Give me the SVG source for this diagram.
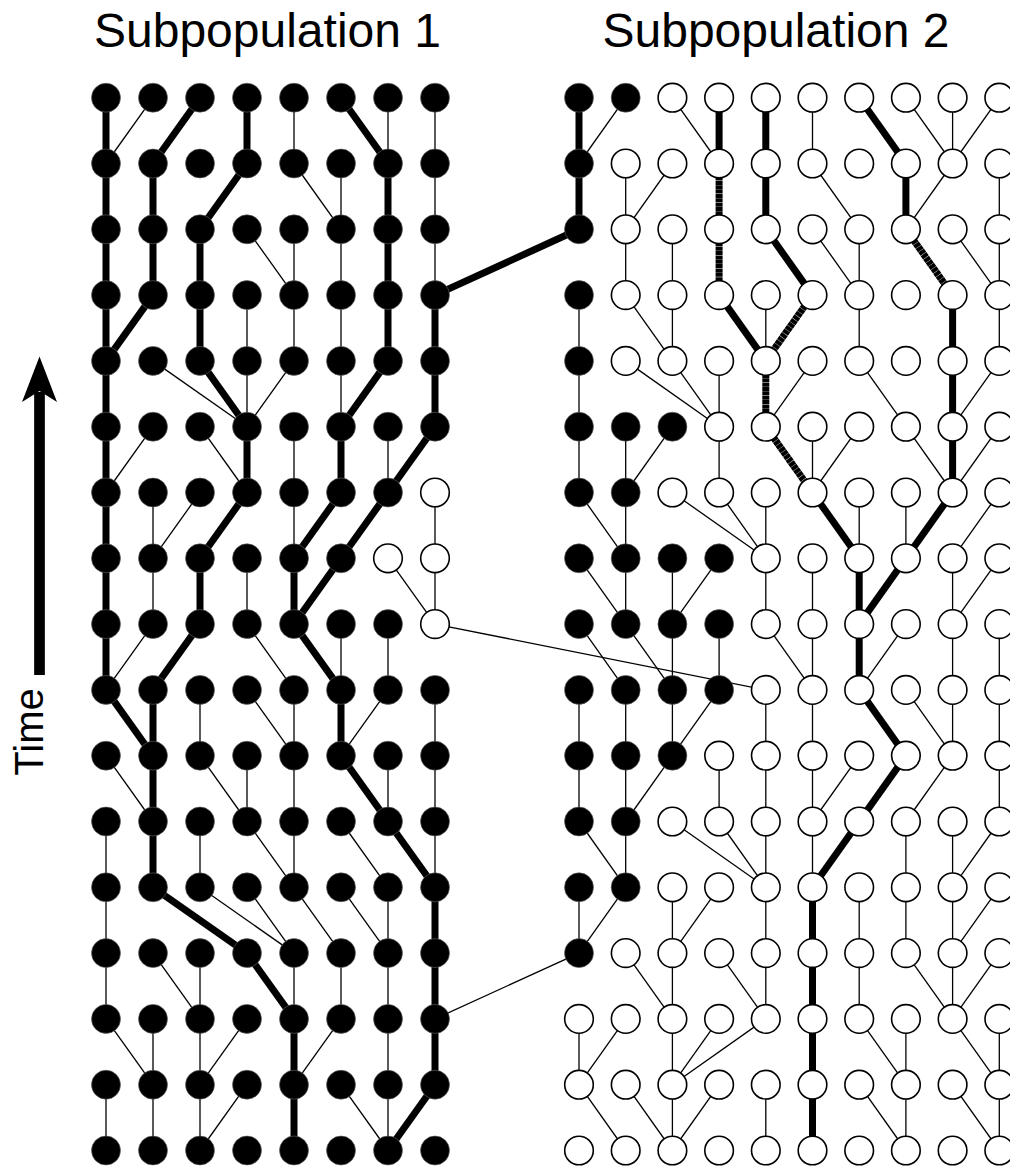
<svg xmlns="http://www.w3.org/2000/svg" width="1010" height="1168" viewBox="0 0 1010 1168">
<style>
.t{stroke:#000;stroke-width:1.3}
.k{stroke:#000;stroke-width:7}
.h{stroke:#000;stroke-width:7;stroke-dasharray:4 0.35}
.bk{fill:#000;stroke:#666;stroke-width:0.6}
.wh{fill:#fff;stroke:#000;stroke-width:1.6}
.lbl{font-family:"Liberation Sans",Arial,sans-serif;fill:#000}
</style>
<rect width="1010" height="1168" fill="#fff"/>
<text class="lbl" x="267.5" y="47" font-size="48" text-anchor="middle">Subpopulation 1</text>
<text class="lbl" x="776" y="47" font-size="48" text-anchor="middle">Subpopulation 2</text>
<g id="time-axis">
<line x1="39.5" y1="675" x2="39.5" y2="392" stroke="#000" stroke-width="10.7"/>
<path d="M39.5,356.5 L57,402 L39.5,391 L22,402 Z" fill="#000"/>
<text class="lbl" transform="translate(43,732) rotate(-90)" font-size="40" text-anchor="middle">Time</text>
</g>
<g id="connectors">
<!-- Subpopulation 1 -->
<line class="k" x1="106" y1="97.7" x2="106" y2="163.5"/>
<line class="t" x1="153" y1="97.7" x2="106" y2="163.5"/>
<line class="k" x1="200" y1="97.7" x2="153" y2="163.5"/>
<line class="k" x1="247" y1="97.7" x2="247" y2="163.5"/>
<line class="t" x1="294" y1="97.7" x2="294" y2="163.5"/>
<line class="k" x1="341" y1="97.7" x2="388" y2="163.5"/>
<line class="t" x1="388" y1="97.7" x2="388" y2="163.5"/>
<line class="t" x1="435" y1="97.7" x2="435" y2="163.5"/>

<line class="k" x1="106" y1="163.5" x2="106" y2="229.3"/>
<line class="k" x1="153" y1="163.5" x2="153" y2="229.3"/>
<line class="k" x1="247" y1="163.5" x2="200" y2="229.3"/>
<line class="t" x1="294" y1="163.5" x2="341" y2="229.3"/>
<line class="t" x1="341" y1="163.5" x2="341" y2="229.3"/>
<line class="k" x1="388" y1="163.5" x2="388" y2="229.3"/>
<line class="t" x1="435" y1="163.5" x2="435" y2="229.3"/>

<line class="k" x1="106" y1="229.3" x2="106" y2="295.1"/>
<line class="k" x1="153" y1="229.3" x2="153" y2="295.1"/>
<line class="k" x1="200" y1="229.3" x2="200" y2="295.1"/>
<line class="t" x1="247" y1="229.3" x2="294" y2="295.1"/>
<line class="t" x1="294" y1="229.3" x2="294" y2="295.1"/>
<line class="t" x1="341" y1="229.3" x2="341" y2="295.1"/>
<line class="k" x1="388" y1="229.3" x2="388" y2="295.1"/>
<line class="t" x1="435" y1="229.3" x2="435" y2="295.1"/>

<line class="k" x1="106" y1="295.1" x2="106" y2="360.9"/>
<line class="k" x1="153" y1="295.1" x2="106" y2="360.9"/>
<line class="k" x1="200" y1="295.1" x2="200" y2="360.9"/>
<line class="t" x1="247" y1="295.1" x2="247" y2="360.9"/>
<line class="t" x1="294" y1="295.1" x2="294" y2="360.9"/>
<line class="t" x1="341" y1="295.1" x2="341" y2="360.9"/>
<line class="k" x1="388" y1="295.1" x2="388" y2="360.9"/>
<line class="k" x1="435" y1="295.1" x2="435" y2="360.9"/>

<line class="k" x1="106" y1="360.9" x2="106" y2="426.7"/>
<line class="t" x1="153" y1="360.9" x2="247" y2="426.7"/>
<line class="k" x1="200" y1="360.9" x2="247" y2="426.7"/>
<line class="t" x1="247" y1="360.9" x2="247" y2="426.7"/>
<line class="t" x1="294" y1="360.9" x2="247" y2="426.7"/>
<line class="t" x1="341" y1="360.9" x2="341" y2="426.7"/>
<line class="k" x1="388" y1="360.9" x2="341" y2="426.7"/>
<line class="k" x1="435" y1="360.9" x2="435" y2="426.7"/>

<line class="k" x1="106" y1="426.7" x2="106" y2="492.5"/>
<line class="t" x1="153" y1="426.7" x2="106" y2="492.5"/>
<line class="t" x1="200" y1="426.7" x2="247" y2="492.5"/>
<line class="k" x1="247" y1="426.7" x2="247" y2="492.5"/>
<line class="t" x1="294" y1="426.7" x2="294" y2="492.5"/>
<line class="k" x1="341" y1="426.7" x2="341" y2="492.5"/>
<line class="t" x1="388" y1="426.7" x2="388" y2="492.5"/>
<line class="k" x1="435" y1="426.7" x2="388" y2="492.5"/>

<line class="k" x1="106" y1="492.5" x2="106" y2="558.3"/>
<line class="t" x1="153" y1="492.5" x2="153" y2="558.3"/>
<line class="t" x1="200" y1="492.5" x2="153" y2="558.3"/>
<line class="k" x1="247" y1="492.5" x2="200" y2="558.3"/>
<line class="t" x1="294" y1="492.5" x2="294" y2="558.3"/>
<line class="k" x1="341" y1="492.5" x2="294" y2="558.3"/>
<line class="k" x1="388" y1="492.5" x2="341" y2="558.3"/>
<line class="t" x1="435" y1="492.5" x2="435" y2="558.3"/>

<line class="k" x1="106" y1="558.3" x2="106" y2="624.1"/>
<line class="t" x1="153" y1="558.3" x2="153" y2="624.1"/>
<line class="k" x1="200" y1="558.3" x2="200" y2="624.1"/>
<line class="t" x1="247" y1="558.3" x2="247" y2="624.1"/>
<line class="k" x1="294" y1="558.3" x2="294" y2="624.1"/>
<line class="k" x1="341" y1="558.3" x2="294" y2="624.1"/>
<line class="t" x1="388" y1="558.3" x2="435" y2="624.1"/>
<line class="t" x1="435" y1="558.3" x2="435" y2="624.1"/>

<line class="k" x1="106" y1="624.1" x2="106" y2="689.9"/>
<line class="t" x1="153" y1="624.1" x2="106" y2="689.9"/>
<line class="k" x1="200" y1="624.1" x2="153" y2="689.9"/>
<line class="t" x1="247" y1="624.1" x2="294" y2="689.9"/>
<line class="k" x1="294" y1="624.1" x2="341" y2="689.9"/>
<line class="t" x1="341" y1="624.1" x2="341" y2="689.9"/>
<line class="t" x1="388" y1="624.1" x2="388" y2="689.9"/>

<line class="k" x1="106" y1="689.9" x2="153" y2="755.7"/>
<line class="k" x1="153" y1="689.9" x2="153" y2="755.7"/>
<line class="t" x1="200" y1="689.9" x2="200" y2="755.7"/>
<line class="t" x1="247" y1="689.9" x2="294" y2="755.7"/>
<line class="t" x1="294" y1="689.9" x2="294" y2="755.7"/>
<line class="k" x1="341" y1="689.9" x2="341" y2="755.7"/>
<line class="t" x1="388" y1="689.9" x2="341" y2="755.7"/>
<line class="t" x1="435" y1="689.9" x2="435" y2="755.7"/>

<line class="t" x1="106" y1="755.7" x2="153" y2="821.5"/>
<line class="k" x1="153" y1="755.7" x2="153" y2="821.5"/>
<line class="t" x1="200" y1="755.7" x2="247" y2="821.5"/>
<line class="t" x1="247" y1="755.7" x2="247" y2="821.5"/>
<line class="t" x1="294" y1="755.7" x2="294" y2="821.5"/>
<line class="k" x1="341" y1="755.7" x2="388" y2="821.5"/>
<line class="t" x1="388" y1="755.7" x2="388" y2="821.5"/>
<line class="t" x1="435" y1="755.7" x2="435" y2="821.5"/>

<line class="t" x1="106" y1="821.5" x2="106" y2="887.3"/>
<line class="k" x1="153" y1="821.5" x2="153" y2="887.3"/>
<line class="t" x1="200" y1="821.5" x2="200" y2="887.3"/>
<line class="t" x1="247" y1="821.5" x2="294" y2="887.3"/>
<line class="t" x1="294" y1="821.5" x2="294" y2="887.3"/>
<line class="t" x1="341" y1="821.5" x2="388" y2="887.3"/>
<line class="k" x1="388" y1="821.5" x2="435" y2="887.3"/>
<line class="t" x1="435" y1="821.5" x2="435" y2="887.3"/>

<line class="t" x1="106" y1="887.3" x2="106" y2="953.1"/>
<line class="k" x1="153" y1="887.3" x2="247" y2="953.1"/>
<line class="t" x1="200" y1="887.3" x2="294" y2="953.1"/>
<line class="t" x1="247" y1="887.3" x2="294" y2="953.1"/>
<line class="t" x1="294" y1="887.3" x2="341" y2="953.1"/>
<line class="t" x1="341" y1="887.3" x2="388" y2="953.1"/>
<line class="t" x1="388" y1="887.3" x2="388" y2="953.1"/>
<line class="k" x1="435" y1="887.3" x2="435" y2="953.1"/>

<line class="t" x1="106" y1="953.1" x2="106" y2="1018.9"/>
<line class="t" x1="153" y1="953.1" x2="200" y2="1018.9"/>
<line class="t" x1="200" y1="953.1" x2="200" y2="1018.9"/>
<line class="k" x1="247" y1="953.1" x2="294" y2="1018.9"/>
<line class="t" x1="294" y1="953.1" x2="294" y2="1018.9"/>
<line class="t" x1="341" y1="953.1" x2="341" y2="1018.9"/>
<line class="t" x1="388" y1="953.1" x2="388" y2="1018.9"/>
<line class="k" x1="435" y1="953.1" x2="435" y2="1018.9"/>

<line class="t" x1="106" y1="1018.9" x2="153" y2="1084.7"/>
<line class="t" x1="153" y1="1018.9" x2="153" y2="1084.7"/>
<line class="t" x1="200" y1="1018.9" x2="200" y2="1084.7"/>
<line class="t" x1="247" y1="1018.9" x2="200" y2="1084.7"/>
<line class="k" x1="294" y1="1018.9" x2="294" y2="1084.7"/>
<line class="t" x1="341" y1="1018.9" x2="294" y2="1084.7"/>
<line class="t" x1="388" y1="1018.9" x2="388" y2="1084.7"/>
<line class="k" x1="435" y1="1018.9" x2="435" y2="1084.7"/>

<line class="t" x1="106" y1="1084.7" x2="106" y2="1150.5"/>
<line class="t" x1="153" y1="1084.7" x2="153" y2="1150.5"/>
<line class="t" x1="200" y1="1084.7" x2="200" y2="1150.5"/>
<line class="t" x1="247" y1="1084.7" x2="200" y2="1150.5"/>
<line class="k" x1="294" y1="1084.7" x2="294" y2="1150.5"/>
<line class="t" x1="341" y1="1084.7" x2="388" y2="1150.5"/>
<line class="t" x1="388" y1="1084.7" x2="388" y2="1150.5"/>
<line class="k" x1="435" y1="1084.7" x2="388" y2="1150.5"/>

<!-- Migration -->
<line class="k" x1="435" y1="295.1" x2="579" y2="229.3"/>
<line class="t" x1="435" y1="624.1" x2="765.8" y2="689.9"/>
<line class="t" x1="435" y1="1018.9" x2="579" y2="953.1"/>

<!-- Subpopulation 2 -->
<line class="k" x1="579" y1="97.7" x2="579" y2="163.5"/>
<line class="t" x1="625.7" y1="97.7" x2="579" y2="163.5"/>
<line class="t" x1="672.4" y1="97.7" x2="719.1" y2="163.5"/>
<line class="k" x1="719.1" y1="97.7" x2="719.1" y2="163.5"/>
<line class="k" x1="765.8" y1="97.7" x2="765.8" y2="163.5"/>
<line class="t" x1="812.5" y1="97.7" x2="812.5" y2="163.5"/>
<line class="k" x1="859.2" y1="97.7" x2="905.9" y2="163.5"/>
<line class="t" x1="905.9" y1="97.7" x2="952.6" y2="163.5"/>
<line class="t" x1="952.6" y1="97.7" x2="952.6" y2="163.5"/>
<line class="t" x1="999.3" y1="97.7" x2="952.6" y2="163.5"/>

<line class="k" x1="579" y1="163.5" x2="579" y2="229.3"/>
<line class="t" x1="625.7" y1="163.5" x2="625.7" y2="229.3"/>
<line class="t" x1="672.4" y1="163.5" x2="625.7" y2="229.3"/>
<line class="h" x1="719.1" y1="163.5" x2="719.1" y2="229.3"/>
<line class="k" x1="765.8" y1="163.5" x2="765.8" y2="229.3"/>
<line class="t" x1="812.5" y1="163.5" x2="859.2" y2="229.3"/>
<line class="k" x1="905.9" y1="163.5" x2="905.9" y2="229.3"/>
<line class="t" x1="952.6" y1="163.5" x2="905.9" y2="229.3"/>
<line class="t" x1="999.3" y1="163.5" x2="999.3" y2="229.3"/>

<line class="t" x1="625.7" y1="229.3" x2="625.7" y2="295.1"/>
<line class="t" x1="672.4" y1="229.3" x2="672.4" y2="295.1"/>
<line class="h" x1="719.1" y1="229.3" x2="719.1" y2="295.1"/>
<line class="k" x1="765.8" y1="229.3" x2="812.5" y2="295.1"/>
<line class="t" x1="812.5" y1="229.3" x2="859.2" y2="295.1"/>
<line class="t" x1="859.2" y1="229.3" x2="859.2" y2="295.1"/>
<line class="h" x1="905.9" y1="229.3" x2="952.6" y2="295.1"/>
<line class="t" x1="952.6" y1="229.3" x2="999.3" y2="295.1"/>
<line class="t" x1="999.3" y1="229.3" x2="999.3" y2="295.1"/>

<line class="t" x1="579" y1="295.1" x2="579" y2="360.9"/>
<line class="t" x1="625.7" y1="295.1" x2="672.4" y2="360.9"/>
<line class="t" x1="672.4" y1="295.1" x2="672.4" y2="360.9"/>
<line class="k" x1="719.1" y1="295.1" x2="765.8" y2="360.9"/>
<line class="t" x1="765.8" y1="295.1" x2="765.8" y2="360.9"/>
<line class="h" x1="812.5" y1="295.1" x2="765.8" y2="360.9"/>
<line class="t" x1="859.2" y1="295.1" x2="859.2" y2="360.9"/>
<line class="k" x1="952.6" y1="295.1" x2="952.6" y2="360.9"/>
<line class="t" x1="999.3" y1="295.1" x2="999.3" y2="360.9"/>

<line class="t" x1="579" y1="360.9" x2="579" y2="426.7"/>
<line class="t" x1="625.7" y1="360.9" x2="719.1" y2="426.7"/>
<line class="t" x1="672.4" y1="360.9" x2="719.1" y2="426.7"/>
<line class="t" x1="719.1" y1="360.9" x2="719.1" y2="426.7"/>
<line class="h" x1="765.8" y1="360.9" x2="765.8" y2="426.7"/>
<line class="t" x1="812.5" y1="360.9" x2="765.8" y2="426.7"/>
<line class="t" x1="859.2" y1="360.9" x2="905.9" y2="426.7"/>
<line class="k" x1="952.6" y1="360.9" x2="952.6" y2="426.7"/>
<line class="t" x1="999.3" y1="360.9" x2="952.6" y2="426.7"/>

<line class="t" x1="579" y1="426.7" x2="579" y2="492.5"/>
<line class="t" x1="625.7" y1="426.7" x2="625.7" y2="492.5"/>
<line class="t" x1="672.4" y1="426.7" x2="625.7" y2="492.5"/>
<line class="t" x1="719.1" y1="426.7" x2="719.1" y2="492.5"/>
<line class="h" x1="765.8" y1="426.7" x2="812.5" y2="492.5"/>
<line class="t" x1="812.5" y1="426.7" x2="812.5" y2="492.5"/>
<line class="t" x1="859.2" y1="426.7" x2="812.5" y2="492.5"/>
<line class="t" x1="905.9" y1="426.7" x2="952.6" y2="492.5"/>
<line class="k" x1="952.6" y1="426.7" x2="952.6" y2="492.5"/>
<line class="t" x1="999.3" y1="426.7" x2="952.6" y2="492.5"/>

<line class="t" x1="579" y1="492.5" x2="625.7" y2="558.3"/>
<line class="t" x1="625.7" y1="492.5" x2="625.7" y2="558.3"/>
<line class="t" x1="672.4" y1="492.5" x2="765.8" y2="558.3"/>
<line class="t" x1="719.1" y1="492.5" x2="765.8" y2="558.3"/>
<line class="t" x1="765.8" y1="492.5" x2="765.8" y2="558.3"/>
<line class="k" x1="812.5" y1="492.5" x2="859.2" y2="558.3"/>
<line class="t" x1="859.2" y1="492.5" x2="859.2" y2="558.3"/>
<line class="t" x1="905.9" y1="492.5" x2="905.9" y2="558.3"/>
<line class="k" x1="952.6" y1="492.5" x2="905.9" y2="558.3"/>
<line class="t" x1="999.3" y1="492.5" x2="952.6" y2="558.3"/>

<line class="t" x1="579" y1="558.3" x2="625.7" y2="624.1"/>
<line class="t" x1="625.7" y1="558.3" x2="625.7" y2="624.1"/>
<line class="t" x1="672.4" y1="558.3" x2="672.4" y2="624.1"/>
<line class="t" x1="719.1" y1="558.3" x2="672.4" y2="624.1"/>
<line class="t" x1="765.8" y1="558.3" x2="765.8" y2="624.1"/>
<line class="t" x1="812.5" y1="558.3" x2="812.5" y2="624.1"/>
<line class="k" x1="859.2" y1="558.3" x2="859.2" y2="624.1"/>
<line class="k" x1="905.9" y1="558.3" x2="859.2" y2="624.1"/>
<line class="t" x1="952.6" y1="558.3" x2="952.6" y2="624.1"/>
<line class="t" x1="999.3" y1="558.3" x2="952.6" y2="624.1"/>

<line class="t" x1="579" y1="624.1" x2="625.7" y2="689.9"/>
<line class="t" x1="625.7" y1="624.1" x2="672.4" y2="689.9"/>
<line class="t" x1="672.4" y1="624.1" x2="672.4" y2="689.9"/>
<line class="t" x1="719.1" y1="624.1" x2="719.1" y2="689.9"/>
<line class="t" x1="765.8" y1="624.1" x2="812.5" y2="689.9"/>
<line class="t" x1="812.5" y1="624.1" x2="812.5" y2="689.9"/>
<line class="k" x1="859.2" y1="624.1" x2="859.2" y2="689.9"/>
<line class="t" x1="905.9" y1="624.1" x2="859.2" y2="689.9"/>
<line class="t" x1="952.6" y1="624.1" x2="952.6" y2="689.9"/>
<line class="t" x1="999.3" y1="624.1" x2="999.3" y2="689.9"/>

<line class="t" x1="579" y1="689.9" x2="579" y2="755.7"/>
<line class="t" x1="625.7" y1="689.9" x2="625.7" y2="755.7"/>
<line class="t" x1="672.4" y1="689.9" x2="672.4" y2="755.7"/>
<line class="t" x1="719.1" y1="689.9" x2="672.4" y2="755.7"/>
<line class="t" x1="765.8" y1="689.9" x2="765.8" y2="755.7"/>
<line class="t" x1="812.5" y1="689.9" x2="812.5" y2="755.7"/>
<line class="k" x1="859.2" y1="689.9" x2="905.9" y2="755.7"/>
<line class="t" x1="905.9" y1="689.9" x2="952.6" y2="755.7"/>
<line class="t" x1="952.6" y1="689.9" x2="952.6" y2="755.7"/>
<line class="t" x1="999.3" y1="689.9" x2="999.3" y2="755.7"/>

<line class="t" x1="579" y1="755.7" x2="579" y2="821.5"/>
<line class="t" x1="625.7" y1="755.7" x2="625.7" y2="821.5"/>
<line class="t" x1="672.4" y1="755.7" x2="625.7" y2="821.5"/>
<line class="t" x1="719.1" y1="755.7" x2="719.1" y2="821.5"/>
<line class="t" x1="765.8" y1="755.7" x2="765.8" y2="821.5"/>
<line class="t" x1="812.5" y1="755.7" x2="812.5" y2="821.5"/>
<line class="t" x1="859.2" y1="755.7" x2="812.5" y2="821.5"/>
<line class="k" x1="905.9" y1="755.7" x2="859.2" y2="821.5"/>
<line class="t" x1="952.6" y1="755.7" x2="905.9" y2="821.5"/>
<line class="t" x1="999.3" y1="755.7" x2="999.3" y2="821.5"/>

<line class="t" x1="579" y1="821.5" x2="625.7" y2="887.3"/>
<line class="t" x1="625.7" y1="821.5" x2="625.7" y2="887.3"/>
<line class="t" x1="672.4" y1="821.5" x2="765.8" y2="887.3"/>
<line class="t" x1="719.1" y1="821.5" x2="765.8" y2="887.3"/>
<line class="t" x1="765.8" y1="821.5" x2="765.8" y2="887.3"/>
<line class="t" x1="812.5" y1="821.5" x2="812.5" y2="887.3"/>
<line class="k" x1="859.2" y1="821.5" x2="812.5" y2="887.3"/>
<line class="t" x1="905.9" y1="821.5" x2="905.9" y2="887.3"/>
<line class="t" x1="952.6" y1="821.5" x2="952.6" y2="887.3"/>
<line class="t" x1="999.3" y1="821.5" x2="952.6" y2="887.3"/>

<line class="t" x1="579" y1="887.3" x2="579" y2="953.1"/>
<line class="t" x1="625.7" y1="887.3" x2="579" y2="953.1"/>
<line class="t" x1="672.4" y1="887.3" x2="672.4" y2="953.1"/>
<line class="t" x1="719.1" y1="887.3" x2="672.4" y2="953.1"/>
<line class="t" x1="765.8" y1="887.3" x2="765.8" y2="953.1"/>
<line class="k" x1="812.5" y1="887.3" x2="812.5" y2="953.1"/>
<line class="t" x1="859.2" y1="887.3" x2="859.2" y2="953.1"/>
<line class="t" x1="905.9" y1="887.3" x2="905.9" y2="953.1"/>
<line class="t" x1="952.6" y1="887.3" x2="952.6" y2="953.1"/>
<line class="t" x1="999.3" y1="887.3" x2="952.6" y2="953.1"/>

<line class="t" x1="625.7" y1="953.1" x2="672.4" y2="1018.9"/>
<line class="t" x1="672.4" y1="953.1" x2="672.4" y2="1018.9"/>
<line class="t" x1="719.1" y1="953.1" x2="765.8" y2="1018.9"/>
<line class="t" x1="765.8" y1="953.1" x2="765.8" y2="1018.9"/>
<line class="k" x1="812.5" y1="953.1" x2="812.5" y2="1018.9"/>
<line class="t" x1="859.2" y1="953.1" x2="859.2" y2="1018.9"/>
<line class="t" x1="905.9" y1="953.1" x2="952.6" y2="1018.9"/>
<line class="t" x1="952.6" y1="953.1" x2="952.6" y2="1018.9"/>
<line class="t" x1="999.3" y1="953.1" x2="952.6" y2="1018.9"/>

<line class="t" x1="579" y1="1018.9" x2="579" y2="1084.7"/>
<line class="t" x1="625.7" y1="1018.9" x2="579" y2="1084.7"/>
<line class="t" x1="672.4" y1="1018.9" x2="672.4" y2="1084.7"/>
<line class="t" x1="719.1" y1="1018.9" x2="672.4" y2="1084.7"/>
<line class="t" x1="765.8" y1="1018.9" x2="672.4" y2="1084.7"/>
<line class="k" x1="812.5" y1="1018.9" x2="812.5" y2="1084.7"/>
<line class="t" x1="859.2" y1="1018.9" x2="905.9" y2="1084.7"/>
<line class="t" x1="905.9" y1="1018.9" x2="905.9" y2="1084.7"/>
<line class="t" x1="952.6" y1="1018.9" x2="999.3" y2="1084.7"/>
<line class="t" x1="999.3" y1="1018.9" x2="999.3" y2="1084.7"/>

<line class="t" x1="579" y1="1084.7" x2="625.7" y2="1150.5"/>
<line class="t" x1="625.7" y1="1084.7" x2="672.4" y2="1150.5"/>
<line class="t" x1="672.4" y1="1084.7" x2="672.4" y2="1150.5"/>
<line class="t" x1="719.1" y1="1084.7" x2="672.4" y2="1150.5"/>
<line class="t" x1="765.8" y1="1084.7" x2="765.8" y2="1150.5"/>
<line class="k" x1="812.5" y1="1084.7" x2="812.5" y2="1150.5"/>
<line class="t" x1="859.2" y1="1084.7" x2="905.9" y2="1150.5"/>
<line class="t" x1="905.9" y1="1084.7" x2="905.9" y2="1150.5"/>
<line class="t" x1="952.6" y1="1084.7" x2="999.3" y2="1150.5"/>
<line class="t" x1="999.3" y1="1084.7" x2="999.3" y2="1150.5"/>
</g>
<g id="nodes-subpop1">
<g id="a0_0"><circle class="bk" cx="106" cy="97.7" r="14.5"/></g><g id="a0_1"><circle class="bk" cx="153" cy="97.7" r="14.5"/></g><g id="a0_2"><circle class="bk" cx="200" cy="97.7" r="14.5"/></g><g id="a0_3"><circle class="bk" cx="247" cy="97.7" r="14.5"/></g><g id="a0_4"><circle class="bk" cx="294" cy="97.7" r="14.5"/></g><g id="a0_5"><circle class="bk" cx="341" cy="97.7" r="14.5"/></g><g id="a0_6"><circle class="bk" cx="388" cy="97.7" r="14.5"/></g><g id="a0_7"><circle class="bk" cx="435" cy="97.7" r="14.5"/></g>
<g id="a1_0"><circle class="bk" cx="106" cy="163.5" r="14.5"/></g><g id="a1_1"><circle class="bk" cx="153" cy="163.5" r="14.5"/></g><g id="a1_2"><circle class="bk" cx="200" cy="163.5" r="14.5"/></g><g id="a1_3"><circle class="bk" cx="247" cy="163.5" r="14.5"/></g><g id="a1_4"><circle class="bk" cx="294" cy="163.5" r="14.5"/></g><g id="a1_5"><circle class="bk" cx="341" cy="163.5" r="14.5"/></g><g id="a1_6"><circle class="bk" cx="388" cy="163.5" r="14.5"/></g><g id="a1_7"><circle class="bk" cx="435" cy="163.5" r="14.5"/></g>
<g id="a2_0"><circle class="bk" cx="106" cy="229.3" r="14.5"/></g><g id="a2_1"><circle class="bk" cx="153" cy="229.3" r="14.5"/></g><g id="a2_2"><circle class="bk" cx="200" cy="229.3" r="14.5"/></g><g id="a2_3"><circle class="bk" cx="247" cy="229.3" r="14.5"/></g><g id="a2_4"><circle class="bk" cx="294" cy="229.3" r="14.5"/></g><g id="a2_5"><circle class="bk" cx="341" cy="229.3" r="14.5"/></g><g id="a2_6"><circle class="bk" cx="388" cy="229.3" r="14.5"/></g><g id="a2_7"><circle class="bk" cx="435" cy="229.3" r="14.5"/></g>
<g id="a3_0"><circle class="bk" cx="106" cy="295.1" r="14.5"/></g><g id="a3_1"><circle class="bk" cx="153" cy="295.1" r="14.5"/></g><g id="a3_2"><circle class="bk" cx="200" cy="295.1" r="14.5"/></g><g id="a3_3"><circle class="bk" cx="247" cy="295.1" r="14.5"/></g><g id="a3_4"><circle class="bk" cx="294" cy="295.1" r="14.5"/></g><g id="a3_5"><circle class="bk" cx="341" cy="295.1" r="14.5"/></g><g id="a3_6"><circle class="bk" cx="388" cy="295.1" r="14.5"/></g><g id="a3_7"><circle class="bk" cx="435" cy="295.1" r="14.5"/></g>
<g id="a4_0"><circle class="bk" cx="106" cy="360.9" r="14.5"/></g><g id="a4_1"><circle class="bk" cx="153" cy="360.9" r="14.5"/></g><g id="a4_2"><circle class="bk" cx="200" cy="360.9" r="14.5"/></g><g id="a4_3"><circle class="bk" cx="247" cy="360.9" r="14.5"/></g><g id="a4_4"><circle class="bk" cx="294" cy="360.9" r="14.5"/></g><g id="a4_5"><circle class="bk" cx="341" cy="360.9" r="14.5"/></g><g id="a4_6"><circle class="bk" cx="388" cy="360.9" r="14.5"/></g><g id="a4_7"><circle class="bk" cx="435" cy="360.9" r="14.5"/></g>
<g id="a5_0"><circle class="bk" cx="106" cy="426.7" r="14.5"/></g><g id="a5_1"><circle class="bk" cx="153" cy="426.7" r="14.5"/></g><g id="a5_2"><circle class="bk" cx="200" cy="426.7" r="14.5"/></g><g id="a5_3"><circle class="bk" cx="247" cy="426.7" r="14.5"/></g><g id="a5_4"><circle class="bk" cx="294" cy="426.7" r="14.5"/></g><g id="a5_5"><circle class="bk" cx="341" cy="426.7" r="14.5"/></g><g id="a5_6"><circle class="bk" cx="388" cy="426.7" r="14.5"/></g><g id="a5_7"><circle class="bk" cx="435" cy="426.7" r="14.5"/></g>
<g id="a6_0"><circle class="bk" cx="106" cy="492.5" r="14.5"/></g><g id="a6_1"><circle class="bk" cx="153" cy="492.5" r="14.5"/></g><g id="a6_2"><circle class="bk" cx="200" cy="492.5" r="14.5"/></g><g id="a6_3"><circle class="bk" cx="247" cy="492.5" r="14.5"/></g><g id="a6_4"><circle class="bk" cx="294" cy="492.5" r="14.5"/></g><g id="a6_5"><circle class="bk" cx="341" cy="492.5" r="14.5"/></g><g id="a6_6"><circle class="bk" cx="388" cy="492.5" r="14.5"/></g><g id="a6_7"><circle class="wh" cx="435" cy="492.5" r="14.3"/></g>
<g id="a7_0"><circle class="bk" cx="106" cy="558.3" r="14.5"/></g><g id="a7_1"><circle class="bk" cx="153" cy="558.3" r="14.5"/></g><g id="a7_2"><circle class="bk" cx="200" cy="558.3" r="14.5"/></g><g id="a7_3"><circle class="bk" cx="247" cy="558.3" r="14.5"/></g><g id="a7_4"><circle class="bk" cx="294" cy="558.3" r="14.5"/></g><g id="a7_5"><circle class="bk" cx="341" cy="558.3" r="14.5"/></g><g id="a7_6"><circle class="wh" cx="388" cy="558.3" r="14.3"/></g><g id="a7_7"><circle class="wh" cx="435" cy="558.3" r="14.3"/></g>
<g id="a8_0"><circle class="bk" cx="106" cy="624.1" r="14.5"/></g><g id="a8_1"><circle class="bk" cx="153" cy="624.1" r="14.5"/></g><g id="a8_2"><circle class="bk" cx="200" cy="624.1" r="14.5"/></g><g id="a8_3"><circle class="bk" cx="247" cy="624.1" r="14.5"/></g><g id="a8_4"><circle class="bk" cx="294" cy="624.1" r="14.5"/></g><g id="a8_5"><circle class="bk" cx="341" cy="624.1" r="14.5"/></g><g id="a8_6"><circle class="bk" cx="388" cy="624.1" r="14.5"/></g><g id="a8_7"><circle class="wh" cx="435" cy="624.1" r="14.3"/></g>
<g id="a9_0"><circle class="bk" cx="106" cy="689.9" r="14.5"/></g><g id="a9_1"><circle class="bk" cx="153" cy="689.9" r="14.5"/></g><g id="a9_2"><circle class="bk" cx="200" cy="689.9" r="14.5"/></g><g id="a9_3"><circle class="bk" cx="247" cy="689.9" r="14.5"/></g><g id="a9_4"><circle class="bk" cx="294" cy="689.9" r="14.5"/></g><g id="a9_5"><circle class="bk" cx="341" cy="689.9" r="14.5"/></g><g id="a9_6"><circle class="bk" cx="388" cy="689.9" r="14.5"/></g><g id="a9_7"><circle class="bk" cx="435" cy="689.9" r="14.5"/></g>
<g id="a10_0"><circle class="bk" cx="106" cy="755.7" r="14.5"/></g><g id="a10_1"><circle class="bk" cx="153" cy="755.7" r="14.5"/></g><g id="a10_2"><circle class="bk" cx="200" cy="755.7" r="14.5"/></g><g id="a10_3"><circle class="bk" cx="247" cy="755.7" r="14.5"/></g><g id="a10_4"><circle class="bk" cx="294" cy="755.7" r="14.5"/></g><g id="a10_5"><circle class="bk" cx="341" cy="755.7" r="14.5"/></g><g id="a10_6"><circle class="bk" cx="388" cy="755.7" r="14.5"/></g><g id="a10_7"><circle class="bk" cx="435" cy="755.7" r="14.5"/></g>
<g id="a11_0"><circle class="bk" cx="106" cy="821.5" r="14.5"/></g><g id="a11_1"><circle class="bk" cx="153" cy="821.5" r="14.5"/></g><g id="a11_2"><circle class="bk" cx="200" cy="821.5" r="14.5"/></g><g id="a11_3"><circle class="bk" cx="247" cy="821.5" r="14.5"/></g><g id="a11_4"><circle class="bk" cx="294" cy="821.5" r="14.5"/></g><g id="a11_5"><circle class="bk" cx="341" cy="821.5" r="14.5"/></g><g id="a11_6"><circle class="bk" cx="388" cy="821.5" r="14.5"/></g><g id="a11_7"><circle class="bk" cx="435" cy="821.5" r="14.5"/></g>
<g id="a12_0"><circle class="bk" cx="106" cy="887.3" r="14.5"/></g><g id="a12_1"><circle class="bk" cx="153" cy="887.3" r="14.5"/></g><g id="a12_2"><circle class="bk" cx="200" cy="887.3" r="14.5"/></g><g id="a12_3"><circle class="bk" cx="247" cy="887.3" r="14.5"/></g><g id="a12_4"><circle class="bk" cx="294" cy="887.3" r="14.5"/></g><g id="a12_5"><circle class="bk" cx="341" cy="887.3" r="14.5"/></g><g id="a12_6"><circle class="bk" cx="388" cy="887.3" r="14.5"/></g><g id="a12_7"><circle class="bk" cx="435" cy="887.3" r="14.5"/></g>
<g id="a13_0"><circle class="bk" cx="106" cy="953.1" r="14.5"/></g><g id="a13_1"><circle class="bk" cx="153" cy="953.1" r="14.5"/></g><g id="a13_2"><circle class="bk" cx="200" cy="953.1" r="14.5"/></g><g id="a13_3"><circle class="bk" cx="247" cy="953.1" r="14.5"/></g><g id="a13_4"><circle class="bk" cx="294" cy="953.1" r="14.5"/></g><g id="a13_5"><circle class="bk" cx="341" cy="953.1" r="14.5"/></g><g id="a13_6"><circle class="bk" cx="388" cy="953.1" r="14.5"/></g><g id="a13_7"><circle class="bk" cx="435" cy="953.1" r="14.5"/></g>
<g id="a14_0"><circle class="bk" cx="106" cy="1018.9" r="14.5"/></g><g id="a14_1"><circle class="bk" cx="153" cy="1018.9" r="14.5"/></g><g id="a14_2"><circle class="bk" cx="200" cy="1018.9" r="14.5"/></g><g id="a14_3"><circle class="bk" cx="247" cy="1018.9" r="14.5"/></g><g id="a14_4"><circle class="bk" cx="294" cy="1018.9" r="14.5"/></g><g id="a14_5"><circle class="bk" cx="341" cy="1018.9" r="14.5"/></g><g id="a14_6"><circle class="bk" cx="388" cy="1018.9" r="14.5"/></g><g id="a14_7"><circle class="bk" cx="435" cy="1018.9" r="14.5"/></g>
<g id="a15_0"><circle class="bk" cx="106" cy="1084.7" r="14.5"/></g><g id="a15_1"><circle class="bk" cx="153" cy="1084.7" r="14.5"/></g><g id="a15_2"><circle class="bk" cx="200" cy="1084.7" r="14.5"/></g><g id="a15_3"><circle class="bk" cx="247" cy="1084.7" r="14.5"/></g><g id="a15_4"><circle class="bk" cx="294" cy="1084.7" r="14.5"/></g><g id="a15_5"><circle class="bk" cx="341" cy="1084.7" r="14.5"/></g><g id="a15_6"><circle class="bk" cx="388" cy="1084.7" r="14.5"/></g><g id="a15_7"><circle class="bk" cx="435" cy="1084.7" r="14.5"/></g>
<g id="a16_0"><circle class="bk" cx="106" cy="1150.5" r="14.5"/></g><g id="a16_1"><circle class="bk" cx="153" cy="1150.5" r="14.5"/></g><g id="a16_2"><circle class="bk" cx="200" cy="1150.5" r="14.5"/></g><g id="a16_3"><circle class="bk" cx="247" cy="1150.5" r="14.5"/></g><g id="a16_4"><circle class="bk" cx="294" cy="1150.5" r="14.5"/></g><g id="a16_5"><circle class="bk" cx="341" cy="1150.5" r="14.5"/></g><g id="a16_6"><circle class="bk" cx="388" cy="1150.5" r="14.5"/></g><g id="a16_7"><circle class="bk" cx="435" cy="1150.5" r="14.5"/></g>
</g>
<g id="nodes-subpop2">
<g id="b0_0"><circle class="bk" cx="579" cy="97.7" r="14.5"/></g><g id="b0_1"><circle class="bk" cx="625.7" cy="97.7" r="14.5"/></g><g id="b0_2"><circle class="wh" cx="672.4" cy="97.7" r="14.3"/></g><g id="b0_3"><circle class="wh" cx="719.1" cy="97.7" r="14.3"/></g><g id="b0_4"><circle class="wh" cx="765.8" cy="97.7" r="14.3"/></g><g id="b0_5"><circle class="wh" cx="812.5" cy="97.7" r="14.3"/></g><g id="b0_6"><circle class="wh" cx="859.2" cy="97.7" r="14.3"/></g><g id="b0_7"><circle class="wh" cx="905.9" cy="97.7" r="14.3"/></g><g id="b0_8"><circle class="wh" cx="952.6" cy="97.7" r="14.3"/></g><g id="b0_9"><circle class="wh" cx="999.3" cy="97.7" r="14.3"/></g>
<g id="b1_0"><circle class="bk" cx="579" cy="163.5" r="14.5"/></g><g id="b1_1"><circle class="wh" cx="625.7" cy="163.5" r="14.3"/></g><g id="b1_2"><circle class="wh" cx="672.4" cy="163.5" r="14.3"/></g><g id="b1_3"><circle class="wh" cx="719.1" cy="163.5" r="14.3"/></g><g id="b1_4"><circle class="wh" cx="765.8" cy="163.5" r="14.3"/></g><g id="b1_5"><circle class="wh" cx="812.5" cy="163.5" r="14.3"/></g><g id="b1_6"><circle class="wh" cx="859.2" cy="163.5" r="14.3"/></g><g id="b1_7"><circle class="wh" cx="905.9" cy="163.5" r="14.3"/></g><g id="b1_8"><circle class="wh" cx="952.6" cy="163.5" r="14.3"/></g><g id="b1_9"><circle class="wh" cx="999.3" cy="163.5" r="14.3"/></g>
<g id="b2_0"><circle class="bk" cx="579" cy="229.3" r="14.5"/></g><g id="b2_1"><circle class="wh" cx="625.7" cy="229.3" r="14.3"/></g><g id="b2_2"><circle class="wh" cx="672.4" cy="229.3" r="14.3"/></g><g id="b2_3"><circle class="wh" cx="719.1" cy="229.3" r="14.3"/></g><g id="b2_4"><circle class="wh" cx="765.8" cy="229.3" r="14.3"/></g><g id="b2_5"><circle class="wh" cx="812.5" cy="229.3" r="14.3"/></g><g id="b2_6"><circle class="wh" cx="859.2" cy="229.3" r="14.3"/></g><g id="b2_7"><circle class="wh" cx="905.9" cy="229.3" r="14.3"/></g><g id="b2_8"><circle class="wh" cx="952.6" cy="229.3" r="14.3"/></g><g id="b2_9"><circle class="wh" cx="999.3" cy="229.3" r="14.3"/></g>
<g id="b3_0"><circle class="bk" cx="579" cy="295.1" r="14.5"/></g><g id="b3_1"><circle class="wh" cx="625.7" cy="295.1" r="14.3"/></g><g id="b3_2"><circle class="wh" cx="672.4" cy="295.1" r="14.3"/></g><g id="b3_3"><circle class="wh" cx="719.1" cy="295.1" r="14.3"/></g><g id="b3_4"><circle class="wh" cx="765.8" cy="295.1" r="14.3"/></g><g id="b3_5"><circle class="wh" cx="812.5" cy="295.1" r="14.3"/></g><g id="b3_6"><circle class="wh" cx="859.2" cy="295.1" r="14.3"/></g><g id="b3_7"><circle class="wh" cx="905.9" cy="295.1" r="14.3"/></g><g id="b3_8"><circle class="wh" cx="952.6" cy="295.1" r="14.3"/></g><g id="b3_9"><circle class="wh" cx="999.3" cy="295.1" r="14.3"/></g>
<g id="b4_0"><circle class="bk" cx="579" cy="360.9" r="14.5"/></g><g id="b4_1"><circle class="wh" cx="625.7" cy="360.9" r="14.3"/></g><g id="b4_2"><circle class="wh" cx="672.4" cy="360.9" r="14.3"/></g><g id="b4_3"><circle class="wh" cx="719.1" cy="360.9" r="14.3"/></g><g id="b4_4"><circle class="wh" cx="765.8" cy="360.9" r="14.3"/></g><g id="b4_5"><circle class="wh" cx="812.5" cy="360.9" r="14.3"/></g><g id="b4_6"><circle class="wh" cx="859.2" cy="360.9" r="14.3"/></g><g id="b4_7"><circle class="wh" cx="905.9" cy="360.9" r="14.3"/></g><g id="b4_8"><circle class="wh" cx="952.6" cy="360.9" r="14.3"/></g><g id="b4_9"><circle class="wh" cx="999.3" cy="360.9" r="14.3"/></g>
<g id="b5_0"><circle class="bk" cx="579" cy="426.7" r="14.5"/></g><g id="b5_1"><circle class="bk" cx="625.7" cy="426.7" r="14.5"/></g><g id="b5_2"><circle class="bk" cx="672.4" cy="426.7" r="14.5"/></g><g id="b5_3"><circle class="wh" cx="719.1" cy="426.7" r="14.3"/></g><g id="b5_4"><circle class="wh" cx="765.8" cy="426.7" r="14.3"/></g><g id="b5_5"><circle class="wh" cx="812.5" cy="426.7" r="14.3"/></g><g id="b5_6"><circle class="wh" cx="859.2" cy="426.7" r="14.3"/></g><g id="b5_7"><circle class="wh" cx="905.9" cy="426.7" r="14.3"/></g><g id="b5_8"><circle class="wh" cx="952.6" cy="426.7" r="14.3"/></g><g id="b5_9"><circle class="wh" cx="999.3" cy="426.7" r="14.3"/></g>
<g id="b6_0"><circle class="bk" cx="579" cy="492.5" r="14.5"/></g><g id="b6_1"><circle class="bk" cx="625.7" cy="492.5" r="14.5"/></g><g id="b6_2"><circle class="wh" cx="672.4" cy="492.5" r="14.3"/></g><g id="b6_3"><circle class="wh" cx="719.1" cy="492.5" r="14.3"/></g><g id="b6_4"><circle class="wh" cx="765.8" cy="492.5" r="14.3"/></g><g id="b6_5"><circle class="wh" cx="812.5" cy="492.5" r="14.3"/></g><g id="b6_6"><circle class="wh" cx="859.2" cy="492.5" r="14.3"/></g><g id="b6_7"><circle class="wh" cx="905.9" cy="492.5" r="14.3"/></g><g id="b6_8"><circle class="wh" cx="952.6" cy="492.5" r="14.3"/></g><g id="b6_9"><circle class="wh" cx="999.3" cy="492.5" r="14.3"/></g>
<g id="b7_0"><circle class="bk" cx="579" cy="558.3" r="14.5"/></g><g id="b7_1"><circle class="bk" cx="625.7" cy="558.3" r="14.5"/></g><g id="b7_2"><circle class="bk" cx="672.4" cy="558.3" r="14.5"/></g><g id="b7_3"><circle class="bk" cx="719.1" cy="558.3" r="14.5"/></g><g id="b7_4"><circle class="wh" cx="765.8" cy="558.3" r="14.3"/></g><g id="b7_5"><circle class="wh" cx="812.5" cy="558.3" r="14.3"/></g><g id="b7_6"><circle class="wh" cx="859.2" cy="558.3" r="14.3"/></g><g id="b7_7"><circle class="wh" cx="905.9" cy="558.3" r="14.3"/></g><g id="b7_8"><circle class="wh" cx="952.6" cy="558.3" r="14.3"/></g><g id="b7_9"><circle class="wh" cx="999.3" cy="558.3" r="14.3"/></g>
<g id="b8_0"><circle class="bk" cx="579" cy="624.1" r="14.5"/></g><g id="b8_1"><circle class="bk" cx="625.7" cy="624.1" r="14.5"/></g><g id="b8_2"><circle class="bk" cx="672.4" cy="624.1" r="14.5"/></g><g id="b8_3"><circle class="bk" cx="719.1" cy="624.1" r="14.5"/></g><g id="b8_4"><circle class="wh" cx="765.8" cy="624.1" r="14.3"/></g><g id="b8_5"><circle class="wh" cx="812.5" cy="624.1" r="14.3"/></g><g id="b8_6"><circle class="wh" cx="859.2" cy="624.1" r="14.3"/></g><g id="b8_7"><circle class="wh" cx="905.9" cy="624.1" r="14.3"/></g><g id="b8_8"><circle class="wh" cx="952.6" cy="624.1" r="14.3"/></g><g id="b8_9"><circle class="wh" cx="999.3" cy="624.1" r="14.3"/></g>
<g id="b9_0"><circle class="bk" cx="579" cy="689.9" r="14.5"/></g><g id="b9_1"><circle class="bk" cx="625.7" cy="689.9" r="14.5"/></g><g id="b9_2"><circle class="bk" cx="672.4" cy="689.9" r="14.5"/></g><g id="b9_3"><circle class="bk" cx="719.1" cy="689.9" r="14.5"/></g><g id="b9_4"><circle class="wh" cx="765.8" cy="689.9" r="14.3"/></g><g id="b9_5"><circle class="wh" cx="812.5" cy="689.9" r="14.3"/></g><g id="b9_6"><circle class="wh" cx="859.2" cy="689.9" r="14.3"/></g><g id="b9_7"><circle class="wh" cx="905.9" cy="689.9" r="14.3"/></g><g id="b9_8"><circle class="wh" cx="952.6" cy="689.9" r="14.3"/></g><g id="b9_9"><circle class="wh" cx="999.3" cy="689.9" r="14.3"/></g>
<g id="b10_0"><circle class="bk" cx="579" cy="755.7" r="14.5"/></g><g id="b10_1"><circle class="bk" cx="625.7" cy="755.7" r="14.5"/></g><g id="b10_2"><circle class="bk" cx="672.4" cy="755.7" r="14.5"/></g><g id="b10_3"><circle class="wh" cx="719.1" cy="755.7" r="14.3"/></g><g id="b10_4"><circle class="wh" cx="765.8" cy="755.7" r="14.3"/></g><g id="b10_5"><circle class="wh" cx="812.5" cy="755.7" r="14.3"/></g><g id="b10_6"><circle class="wh" cx="859.2" cy="755.7" r="14.3"/></g><g id="b10_7"><circle class="wh" cx="905.9" cy="755.7" r="14.3"/></g><g id="b10_8"><circle class="wh" cx="952.6" cy="755.7" r="14.3"/></g><g id="b10_9"><circle class="wh" cx="999.3" cy="755.7" r="14.3"/></g>
<g id="b11_0"><circle class="bk" cx="579" cy="821.5" r="14.5"/></g><g id="b11_1"><circle class="bk" cx="625.7" cy="821.5" r="14.5"/></g><g id="b11_2"><circle class="wh" cx="672.4" cy="821.5" r="14.3"/></g><g id="b11_3"><circle class="wh" cx="719.1" cy="821.5" r="14.3"/></g><g id="b11_4"><circle class="wh" cx="765.8" cy="821.5" r="14.3"/></g><g id="b11_5"><circle class="wh" cx="812.5" cy="821.5" r="14.3"/></g><g id="b11_6"><circle class="wh" cx="859.2" cy="821.5" r="14.3"/></g><g id="b11_7"><circle class="wh" cx="905.9" cy="821.5" r="14.3"/></g><g id="b11_8"><circle class="wh" cx="952.6" cy="821.5" r="14.3"/></g><g id="b11_9"><circle class="wh" cx="999.3" cy="821.5" r="14.3"/></g>
<g id="b12_0"><circle class="bk" cx="579" cy="887.3" r="14.5"/></g><g id="b12_1"><circle class="bk" cx="625.7" cy="887.3" r="14.5"/></g><g id="b12_2"><circle class="wh" cx="672.4" cy="887.3" r="14.3"/></g><g id="b12_3"><circle class="wh" cx="719.1" cy="887.3" r="14.3"/></g><g id="b12_4"><circle class="wh" cx="765.8" cy="887.3" r="14.3"/></g><g id="b12_5"><circle class="wh" cx="812.5" cy="887.3" r="14.3"/></g><g id="b12_6"><circle class="wh" cx="859.2" cy="887.3" r="14.3"/></g><g id="b12_7"><circle class="wh" cx="905.9" cy="887.3" r="14.3"/></g><g id="b12_8"><circle class="wh" cx="952.6" cy="887.3" r="14.3"/></g><g id="b12_9"><circle class="wh" cx="999.3" cy="887.3" r="14.3"/></g>
<g id="b13_0"><circle class="bk" cx="579" cy="953.1" r="14.5"/></g><g id="b13_1"><circle class="wh" cx="625.7" cy="953.1" r="14.3"/></g><g id="b13_2"><circle class="wh" cx="672.4" cy="953.1" r="14.3"/></g><g id="b13_3"><circle class="wh" cx="719.1" cy="953.1" r="14.3"/></g><g id="b13_4"><circle class="wh" cx="765.8" cy="953.1" r="14.3"/></g><g id="b13_5"><circle class="wh" cx="812.5" cy="953.1" r="14.3"/></g><g id="b13_6"><circle class="wh" cx="859.2" cy="953.1" r="14.3"/></g><g id="b13_7"><circle class="wh" cx="905.9" cy="953.1" r="14.3"/></g><g id="b13_8"><circle class="wh" cx="952.6" cy="953.1" r="14.3"/></g><g id="b13_9"><circle class="wh" cx="999.3" cy="953.1" r="14.3"/></g>
<g id="b14_0"><circle class="wh" cx="579" cy="1018.9" r="14.3"/></g><g id="b14_1"><circle class="wh" cx="625.7" cy="1018.9" r="14.3"/></g><g id="b14_2"><circle class="wh" cx="672.4" cy="1018.9" r="14.3"/></g><g id="b14_3"><circle class="wh" cx="719.1" cy="1018.9" r="14.3"/></g><g id="b14_4"><circle class="wh" cx="765.8" cy="1018.9" r="14.3"/></g><g id="b14_5"><circle class="wh" cx="812.5" cy="1018.9" r="14.3"/></g><g id="b14_6"><circle class="wh" cx="859.2" cy="1018.9" r="14.3"/></g><g id="b14_7"><circle class="wh" cx="905.9" cy="1018.9" r="14.3"/></g><g id="b14_8"><circle class="wh" cx="952.6" cy="1018.9" r="14.3"/></g><g id="b14_9"><circle class="wh" cx="999.3" cy="1018.9" r="14.3"/></g>
<g id="b15_0"><circle class="wh" cx="579" cy="1084.7" r="14.3"/></g><g id="b15_1"><circle class="wh" cx="625.7" cy="1084.7" r="14.3"/></g><g id="b15_2"><circle class="wh" cx="672.4" cy="1084.7" r="14.3"/></g><g id="b15_3"><circle class="wh" cx="719.1" cy="1084.7" r="14.3"/></g><g id="b15_4"><circle class="wh" cx="765.8" cy="1084.7" r="14.3"/></g><g id="b15_5"><circle class="wh" cx="812.5" cy="1084.7" r="14.3"/></g><g id="b15_6"><circle class="wh" cx="859.2" cy="1084.7" r="14.3"/></g><g id="b15_7"><circle class="wh" cx="905.9" cy="1084.7" r="14.3"/></g><g id="b15_8"><circle class="wh" cx="952.6" cy="1084.7" r="14.3"/></g><g id="b15_9"><circle class="wh" cx="999.3" cy="1084.7" r="14.3"/></g>
<g id="b16_0"><circle class="wh" cx="579" cy="1150.5" r="14.3"/></g><g id="b16_1"><circle class="wh" cx="625.7" cy="1150.5" r="14.3"/></g><g id="b16_2"><circle class="wh" cx="672.4" cy="1150.5" r="14.3"/></g><g id="b16_3"><circle class="wh" cx="719.1" cy="1150.5" r="14.3"/></g><g id="b16_4"><circle class="wh" cx="765.8" cy="1150.5" r="14.3"/></g><g id="b16_5"><circle class="wh" cx="812.5" cy="1150.5" r="14.3"/></g><g id="b16_6"><circle class="wh" cx="859.2" cy="1150.5" r="14.3"/></g><g id="b16_7"><circle class="wh" cx="905.9" cy="1150.5" r="14.3"/></g><g id="b16_8"><circle class="wh" cx="952.6" cy="1150.5" r="14.3"/></g><g id="b16_9"><circle class="wh" cx="999.3" cy="1150.5" r="14.3"/></g>
</g>
</svg>
